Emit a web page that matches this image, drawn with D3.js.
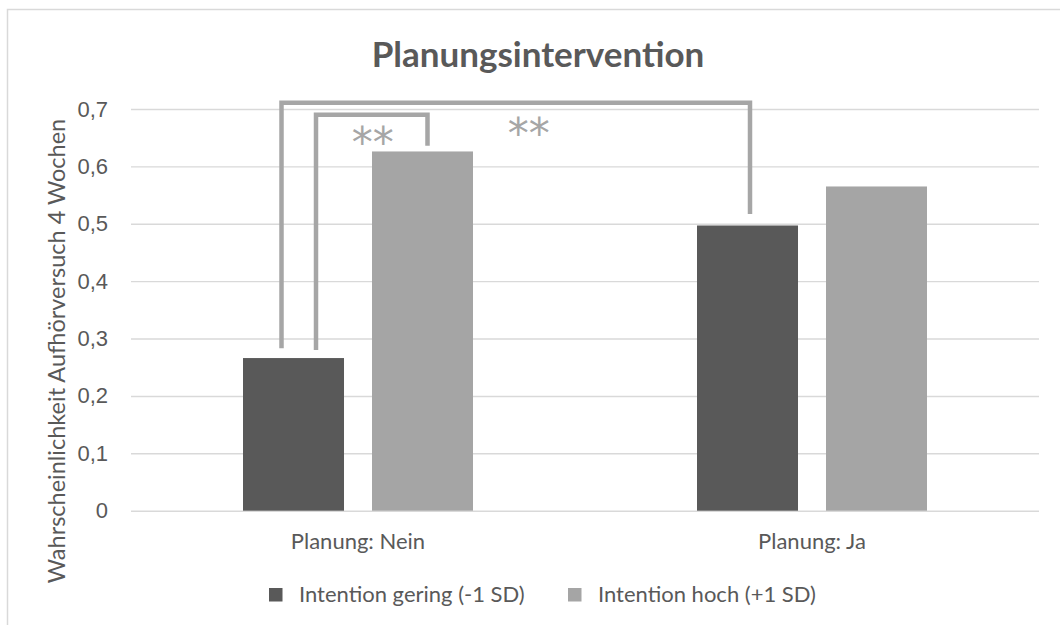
<!DOCTYPE html>
<html>
<head>
<meta charset="utf-8">
<script src="https://cdn.jsdelivr.net/npm/d3@7"></script>
<style>
    html, body { margin: 0; padding: 0; background: #ffffff; }
    svg { display: block; font-family: Lato, "Open Sans", sans-serif; }
</style>
</head>
<body>
<svg id="chart" width="1060" height="625"></svg>
<script>
// Data
const categories = ["Planung: Nein", "Planung: Ja"];
const series = ["Intention gering (-1 SD)", "Intention hoch (+1 SD)"];
const valuesGering = [0.266, 0.497];
const valuesHoch = [0.626, 0.565];
const yTicks = [0, 0.1, 0.2, 0.3, 0.4, 0.5, 0.6, 0.7];

// Significance brackets: bar -> bar, levels in data units
const brackets = [
    {from: [0, 0], to: [1, 0], top: 0.711, fromEnd: 0.283, toEnd: 0.517, label: "**"},
    {from: [0, 0], to: [0, 1], top: 0.690, fromEnd: 0.280, toEnd: 0.636, label: "**"}
];

document.addEventListener("DOMContentLoaded", function() {

    ////////// Display settings //////////
    const width = 1060, height = 625;
    const plot = {left: 131, right: 1039, top: 109, bottom: 510.7};
    const colors = ["#595959", "#a5a5a5"];
    const textColor = "#595959";
    const gridColor = "#d9d9d9";
    const bracketColor = "#a6a6a6";

    const svg = d3.select("#chart");

    // Chart area border (left + top visible in the crop)
    svg.append("path")
        .attr("d", `M7.5,${height} V9.5 H${width}`)
        .attr("fill", "none")
        .attr("stroke", gridColor)
        .attr("stroke-width", 1.5);

    ////////// Scales //////////
    const x0 = d3.scaleBand().domain(categories).range([plot.left, plot.right]).padding(0);
    const x1 = d3.scaleBand().domain(series).range([112, 342]).paddingInner(0.217).paddingOuter(0);
    const y = d3.scaleLinear().domain([0, 0.7]).range([plot.bottom, plot.top]);
    const fmt = d => d3.format(".1~f")(d).replace(".", ",");

    ////////// Grid + y axis //////////
    const yAxis = svg.append("g")
        .attr("transform", `translate(${plot.left},0)`)
        .call(d3.axisLeft(y).tickValues(yTicks).tickSize(-(plot.right - plot.left)).tickPadding(23).tickFormat(fmt));
    yAxis.select(".domain").remove();
    yAxis.selectAll(".tick line")
        .attr("stroke", gridColor)
        .attr("stroke-width", 1.4);
    yAxis.selectAll(".tick text")
        .attr("fill", textColor)
        .style("font-size", "22px");

    // Y title
    svg.append("text")
        .attr("transform", `translate(65,351) rotate(-90)`)
        .attr("text-anchor", "middle")
        .attr("fill", textColor)
        .style("font-size", "23.5px")
        .text("Wahrscheinlichkeit Aufhörversuch 4 Wochen");

    ////////// Bars //////////
    const rows = categories.map((c, i) => ({cat: c, vals: [valuesGering[i], valuesHoch[i]]}));
    const groups = svg.append("g")
        .selectAll("g")
        .data(rows)
        .join("g")
        .attr("transform", d => `translate(${x0(d.cat)},0)`);

    groups.selectAll("rect")
        .data(d => d.vals.map((v, j) => ({s: series[j], v: v, j: j})))
        .join("rect")
        .attr("x", d => x1(d.s))
        .attr("y", d => y(d.v))
        .attr("width", x1.bandwidth())
        .attr("height", d => y(0) - y(d.v))
        .attr("fill", d => colors[d.j]);

    // Category labels
    svg.append("g")
        .selectAll("text")
        .data(categories)
        .join("text")
        .attr("x", d => x0(d) + x0.bandwidth() / 2)
        .attr("y", 549)
        .attr("text-anchor", "middle")
        .attr("fill", textColor)
        .style("font-size", "22px")
        .text(d => d);

    ////////// Brackets //////////
    const barX = (ref, dx) => x0(categories[ref[0]]) + x1(series[ref[1]]) + x1.bandwidth() / 2 + dx;

    brackets.forEach(function(b, i) {
        const dxL = i === 0 ? -12 : 22.5;
        const dxR = i === 0 ? 2.5 : 5;
        const xa = barX(b.from, dxL), xb = barX(b.to, dxR);
        svg.append("path")
            .attr("d", `M${xa},${y(b.fromEnd)} V${y(b.top)} H${xb} V${y(b.toEnd)}`)
            .attr("fill", "none")
            .attr("stroke", bracketColor)
            .attr("stroke-width", 4.5);

        // stars
        const sx = i === 0 ? (xa + xb) / 2 + 13 : (xa + xb) / 2 + 1;
        const sy = i === 0 ? y(b.top) + 45 : y(b.top) + 42;
        svg.append("text")
            .attr("x", sx)
            .attr("y", sy)
            .attr("text-anchor", "middle")
            .attr("fill", bracketColor)
            .style("font-family", "'DejaVu Sans', sans-serif")
            .style("font-size", "42px")
            .text(b.label);
    });

    ////////// Title //////////
    svg.append("text")
        .attr("x", 538)
        .attr("y", 66.7)
        .attr("text-anchor", "middle")
        .attr("fill", textColor)
        .style("font-size", "35px")
        .style("font-weight", "bold")
        .text("Planungsintervention");

    ////////// Legend //////////
    const legendX = [269, 568];
    const legend = svg.append("g")
        .selectAll("g")
        .data(series)
        .join("g")
        .attr("transform", (d, i) => `translate(${legendX[i]},588)`);
    legend.append("rect")
        .attr("width", 13.5)
        .attr("height", 13.5)
        .attr("fill", (d, i) => colors[i]);
    legend.append("text")
        .attr("x", 30)
        .attr("y", 14)
        .attr("fill", textColor)
        .style("font-size", "22px")
        .text(d => d);
});
</script>
</body>
</html>
